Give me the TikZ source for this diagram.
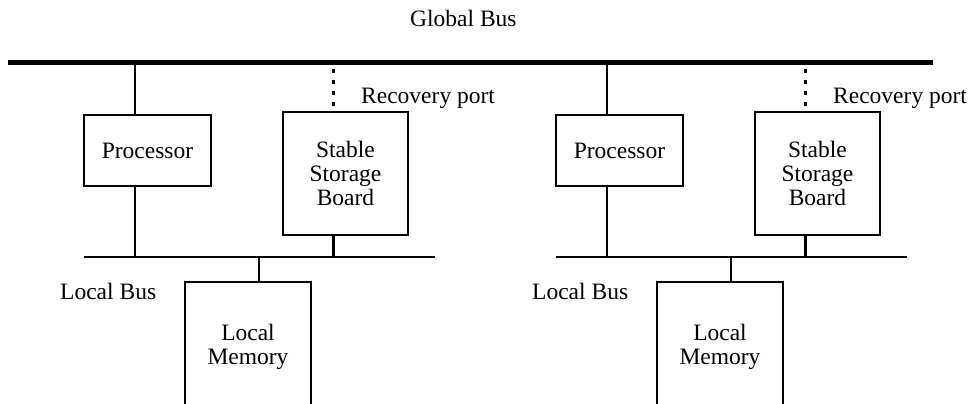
\documentclass[tikz,border=0pt]{standalone}
\usepackage{fontspec}
\setmainfont{Liberation Serif}
\begin{document}
\begin{tikzpicture}[x=1pt,y=-1pt,
  txt/.style={font=\fontsize{23.5}{24}\selectfont},
  box/.style={draw, line width=2.6pt, inner sep=0pt, align=center, txt},
  lbl/.style={inner sep=0pt, txt},
  gbus/.style={line width=5pt},
  lbus/.style={line width=2.8pt},
  wire/.style={line width=2.6pt},
  port/.style={line width=2.6pt, dash pattern=on 4pt off 7pt}]
\useasboundingbox (0,0) rectangle (978,404);
\clip (0,0) rectangle (978,404);
% global bus
\coordinate (gbL) at (8,63);
\coordinate (gbR) at (933,63);
\draw[gbus] (gbL) -- (gbR);
\node[lbl, anchor=base west] (gbt) at (410,27) {Global Bus};
\foreach \o/\n in {0/1, 472/2}{
  \begin{scope}[xshift=\o pt]
    \node[box, minimum width=127pt, minimum height=71pt] (p\n) at (147.5,150.5) {Processor};
    \node[box, minimum width=125pt, minimum height=123pt] (s\n) at (345.5,173.5) {Stable\\Storage\\Board};
    \node[box, minimum width=126pt, minimum height=130pt] (m\n) at (248,347) {Local\\Memory};
    \coordinate (lbL\n) at (84,257);
    \coordinate (lbR\n) at (435,257);
    \draw[lbus] (lbL\n) -- (lbR\n);
    \coordinate (pg\n) at (135,63);
    \coordinate (sg\n) at (333.5,63);
    \coordinate (ml\n) at (259,257);
    \draw[wire] (pg\n) -- (pg\n |- p\n.north);
    \draw[wire] (pg\n |- p\n.south) -- (pg\n |- lbL\n);
    \draw[port] (sg\n |- 0,69) -- (sg\n |- s\n.north);
    \draw[wire] (sg\n |- s\n.south) -- (sg\n |- lbL\n);
    \draw[wire] (ml\n) -- (ml\n |- m\n.north);
    \node[lbl, anchor=base west] (rp\n) at (361,103) {Recovery port};
    \node[lbl, anchor=base west] (lbt\n) at (60,299) {Local Bus};
  \end{scope}
}
\end{tikzpicture}
\end{document}
